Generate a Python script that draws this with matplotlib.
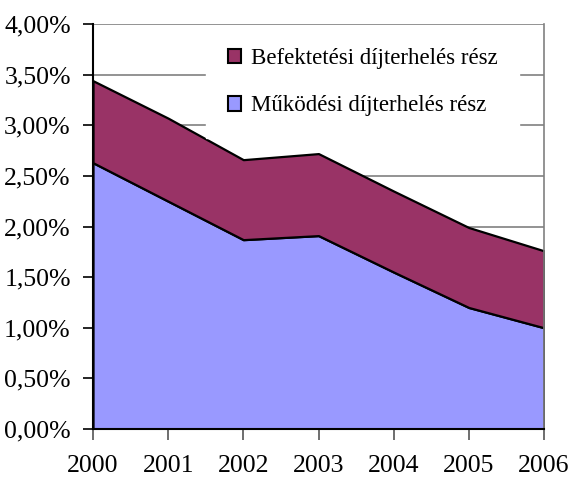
# libraries
import matplotlib
matplotlib.use('Agg')
import matplotlib.pyplot as plt
from matplotlib.ticker import FuncFormatter

# data (percent)
years = [2000, 2001, 2002, 2003, 2004, 2005, 2006]
mukodesi = [2.63, 2.25, 1.87, 1.91, 1.55, 1.20, 1.00]
befektetesi = [0.81, 0.82, 0.79, 0.81, 0.80, 0.79, 0.76]
labels = ['Működési díjterhelés rész', 'Befektetési díjterhelés rész']
colors = ['#9999FF', '#993366']

plt.rcParams['font.family'] = ['Liberation Serif', 'DejaVu Serif']

fig = plt.figure(figsize=(5.69, 4.78), dpi=100)
ax = fig.add_axes([93 / 569, 1 - 429 / 478, (544 - 93) / 569, (429 - 24) / 478])

polys = ax.stackplot(years, mukodesi, befektetesi, colors=colors,
                     edgecolor='black', linewidth=1.6, labels=labels, zorder=2)

ax.set_xlim(2000, 2006)
ax.set_ylim(0, 4.0)
ax.set_xticks(years)
ax.set_yticks([i * 0.5 for i in range(9)])
ax.yaxis.set_major_formatter(FuncFormatter(lambda v, p: f'{v:.2f}'.replace('.', ',') + '%'))

# grid and frame
ax.grid(axis='y', color='#808080', linewidth=1.2, zorder=0)
ax.spines['left'].set_color('black')
ax.spines['bottom'].set_color('black')
ax.spines['left'].set_linewidth(1.5)
ax.spines['bottom'].set_linewidth(1.5)
ax.spines['top'].set_visible(False)
ax.spines['right'].set_color('#808080')
ax.spines['right'].set_linewidth(1.2)
ax.tick_params(axis='y', length=7, width=1.2, pad=9, labelsize=18.5)
ax.tick_params(axis='x', length=8, width=1.2, pad=10.5, labelsize=18.5, color='#555555')

# legend (reversed order, top series first)
handles, labs = ax.get_legend_handles_labels()
leg = ax.legend(handles[::-1], labs[::-1], loc='center',
                bbox_to_anchor=(0.637, 0.828), bbox_transform=fig.transFigure,
                frameon=True, fontsize=16.5, labelspacing=1.15,
                handlelength=0.6, handleheight=0.6, handletextpad=0.4,
                borderpad=0.95, fancybox=False)
leg.get_frame().set_edgecolor('white')
leg.get_frame().set_facecolor('white')
leg.get_frame().set_alpha(1)
for h in leg.legend_handles:
    h.set_edgecolor('black')
    h.set_linewidth(1.5)

fig.savefig('out.png', dpi=100)
